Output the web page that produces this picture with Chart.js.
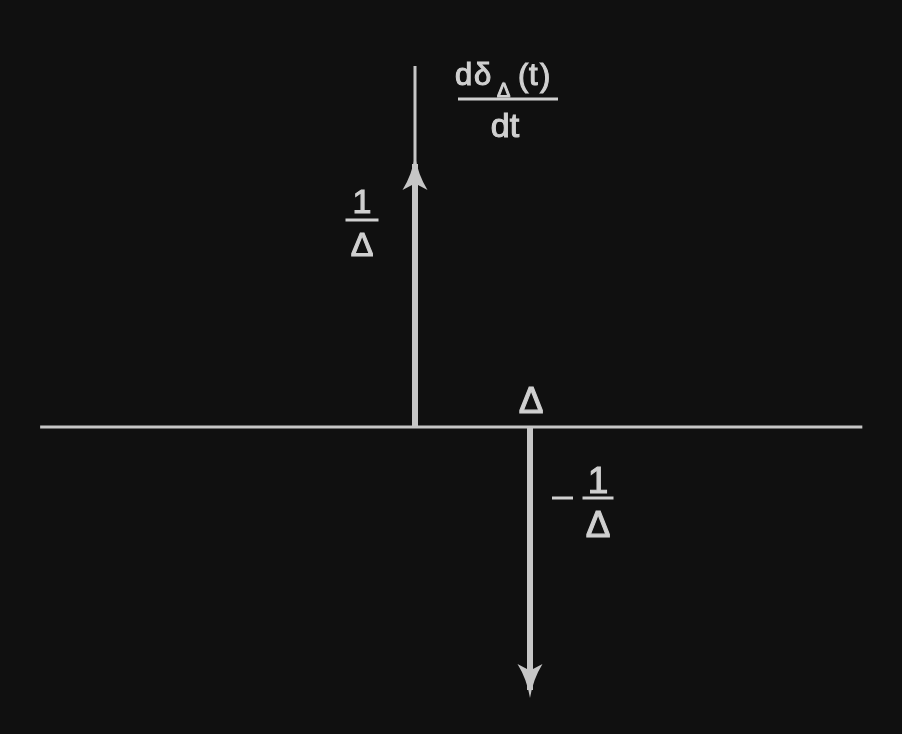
<!DOCTYPE html>
<html>
<head>
<meta charset="utf-8">
<script src="https://cdn.jsdelivr.net/npm/chart.js@4/dist/chart.umd.min.js"></script>
<style>
    body { margin: 0; background: #101010; }
    #wrap { width: 902px; height: 734px; position: relative; }
</style>
</head>
<body>
<div id="wrap"><canvas id="chart"></canvas></div>
<script>
// impulse positions (t, in units of Delta) and their heights (in units of 1/Delta)
const impulseT = [0, 1];
const impulseH = [1, -1];
const impulseLabels = [["1", "Δ"], ["1", "Δ"]];
const tickLabel = "Δ";
// axis extents
const tAxis = [-3.26, 3.89];
const yAxisTop = 1.373;
// visible window
const xRange = [-3.609, 4.235];
const yRange = [-1.1673, 1.6236];

const lineColor = "#c6c6c6";
const textColor = "#d0d0d0";
const fontFamily = "'Liberation Sans', Arial, sans-serif";

const datasets = [
    {
        data: [{ x: tAxis[0], y: 0 }, { x: tAxis[1], y: 0 }],
        borderWidth: 3
    },
    {
        data: [{ x: 0, y: 0 }, { x: 0, y: yAxisTop }],
        borderWidth: 3
    }
];
impulseT.forEach((t, i) => {
    datasets.push({
        data: [{ x: t, y: 0 }, { x: t, y: impulseH[i] }],
        borderWidth: 6
    });
});
datasets.forEach(ds => {
    ds.borderColor = lineColor;
    ds.pointRadius = 0;
    ds.borderCapStyle = "butt";
    ds.showLine = true;
});

// text with a thin outline so it reads heavier, like the scanned figure
function text(ctx, s, x, y, size) {
    ctx.font = size + "px " + fontFamily;
    ctx.lineWidth = 1.1;
    ctx.fillText(s, x, y);
    ctx.strokeText(s, x, y);
}

function bar(ctx, xa, xb, y) {
    ctx.lineWidth = 3;
    ctx.beginPath();
    ctx.moveTo(xa, y);
    ctx.lineTo(xb, y);
    ctx.stroke();
}

function fraction(ctx, cx, by, parts, size, half, top, bottom) {
    ctx.textAlign = "center";
    text(ctx, parts[0], cx, by - top, size);
    bar(ctx, cx - half, cx + half, by);
    text(ctx, parts[1], cx, by + bottom, size);
}

// arrowheads and the text labels, placed off the library scales
const overlay = {
    id: "overlay",
    afterDatasetsDraw(chart) {
        const ctx = chart.ctx;
        const xs = chart.scales.x, ys = chart.scales.y;
        ctx.save();
        ctx.fillStyle = lineColor;
        impulseT.forEach((t, i) => {
            const px = xs.getPixelForValue(t);
            const end = ys.getPixelForValue(impulseH[i]);
            const dir = impulseH[i] > 0 ? -1 : 1;
            const tip = end + dir * 8;
            const len = 34, w = 12.5;
            ctx.beginPath();
            ctx.moveTo(px, tip);
            ctx.quadraticCurveTo(px + 3, tip - dir * len * 0.55, px + w, tip - dir * len);
            ctx.lineTo(px + 3, tip - dir * (len - 5));
            ctx.lineTo(px - 3, tip - dir * (len - 5));
            ctx.lineTo(px - w, tip - dir * len);
            ctx.quadraticCurveTo(px - 3, tip - dir * len * 0.55, px, tip);
            ctx.closePath();
            ctx.fill();
        });

        ctx.fillStyle = textColor;
        ctx.strokeStyle = textColor;
        ctx.textBaseline = "alphabetic";
        const x0 = xs.getPixelForValue(0);
        const x1 = xs.getPixelForValue(1);
        const y0 = ys.getPixelForValue(0);

        // title: d delta_Delta(t) / dt
        ctx.textAlign = "left";
        text(ctx, "d", 455, 85, 31);
        text(ctx, "δ", 474, 85, 31);
        text(ctx, "Δ", 497, 97, 20);
        text(ctx, "(", 518, 86, 31);
        text(ctx, "t", 529, 85, 31);
        text(ctx, ")", 540, 86, 31);
        bar(ctx, 458, 558, 99);
        ctx.textAlign = "center";
        text(ctx, "dt", 505, 137, 34);

        // 1/Delta beside the up arrow
        fraction(ctx, x0 - 53, 220, impulseLabels[0], 34, 16.5, 7, 36);
        // Delta over the second impulse
        ctx.textAlign = "center";
        text(ctx, tickLabel, x1 + 1, y0 - 14, 37);
        // -1/Delta beside the down arrow
        bar(ctx, x1 + 22, x1 + 43, 498);
        fraction(ctx, x1 + 68, 498, impulseLabels[1], 37, 15.5, 5, 39);
        ctx.restore();
    }
};

new Chart(document.getElementById("chart"), {
    type: "scatter",
    data: { datasets: datasets },
    options: {
        responsive: true,
        maintainAspectRatio: false,
        animation: false,
        layout: { padding: 0 },
        plugins: { legend: { display: false }, tooltip: { enabled: false } },
        scales: {
            x: { type: "linear", display: false, min: xRange[0], max: xRange[1] },
            y: { type: "linear", display: false, min: yRange[0], max: yRange[1] }
        }
    },
    plugins: [overlay]
});
</script>
</body>
</html>
